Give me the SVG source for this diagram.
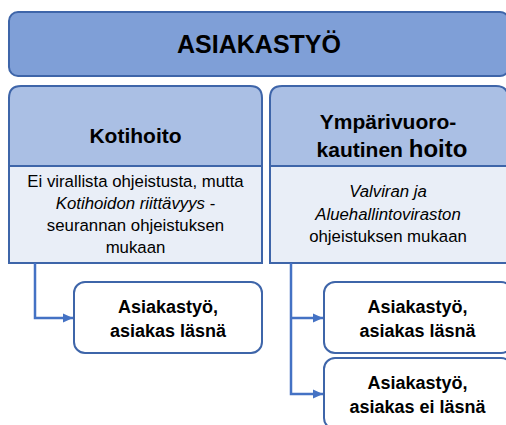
<svg xmlns="http://www.w3.org/2000/svg" width="506" height="425" viewBox="0 0 506 425">
<defs>
<style>
.t{font-family:"Liberation Sans",Arial,sans-serif;fill:#000;text-anchor:middle}
.b{font-weight:bold}
.i{font-style:italic}
.box{stroke:#3E65A9;stroke-width:2}
.conn{fill:none;stroke:#4472C4;stroke-width:2.5}
</style>
<marker id="ah" markerWidth="11" markerHeight="11" refX="10" refY="5.5" orient="auto" markerUnits="userSpaceOnUse">
<path d="M0,1 L10,5.5 L0,10 Z" fill="#4472C4"/>
</marker>
</defs>
<rect width="506" height="425" fill="#fff"/>
<g id="asiakastyo">
<rect class="box" x="9" y="12" width="500" height="64" rx="9" fill="#7F9FD7"/>
<text class="t b" x="259" y="53" font-size="25">ASIAKASTYÖ</text>
</g>
<g id="kotihoito">
<path class="box" d="M9,166 V98 Q9,86 21,86 H250 Q262,86 262,98 V166 Z" fill="#AABFE4"/>
<text class="t b" x="135.5" y="143" font-size="21">Kotihoito</text>
<rect class="box" x="9" y="166" width="253" height="97" fill="#E9EEF7"/>
<text class="t" font-size="16.8"><tspan x="135.5" y="187">Ei virallista ohjeistusta, mutta</tspan><tspan x="135.5" y="209"><tspan class="i">Kotihoidon riittävyys</tspan> -</tspan><tspan x="135.5" y="231">seurannan ohjeistuksen</tspan><tspan x="135.5" y="253">mukaan</tspan></text>
</g>
<g id="ymparivuorokautinen">
<path class="box" d="M270,166 V98 Q270,86 282,86 H496 Q508,86 508,98 V166 Z" fill="#AABFE4"/>
<text class="t b" x="388" y="129" font-size="21">Ympärivuoro-</text>
<text class="t b" x="392" y="157" font-size="21">kautinen <tspan font-size="24">hoito</tspan></text>
<rect class="box" x="270" y="166" width="238" height="97" fill="#E9EEF7"/>
<text class="t" font-size="16.8"><tspan class="i" x="388" y="197">Valviran ja</tspan><tspan class="i" x="388" y="220">Aluehallintoviraston</tspan><tspan x="388" y="242">ohjeistuksen mukaan</tspan></text>
</g>
<g id="connectors">
<path class="conn" d="M35,263 V318 H73" marker-end="url(#ah)"/>
<path class="conn" d="M291,263 V394 H323" marker-end="url(#ah)"/>
<path class="conn" d="M291,318 H323" marker-end="url(#ah)"/>
</g>
<g id="koti-lasna">
<rect class="box" x="74" y="282" width="188" height="71" rx="11" fill="#fff"/>
<text class="t b" font-size="18"><tspan x="168" y="313">Asiakastyö,</tspan><tspan x="168" y="337">asiakas läsnä</tspan></text>
</g>
<g id="ymp-lasna">
<rect class="box" x="324" y="282" width="188" height="71" rx="11" fill="#fff"/>
<text class="t b" font-size="18"><tspan x="417.5" y="313">Asiakastyö,</tspan><tspan x="417.5" y="337">asiakas läsnä</tspan></text>
</g>
<g id="ymp-ei-lasna">
<rect class="box" x="324" y="358" width="188" height="71" rx="11" fill="#fff"/>
<text class="t b" font-size="18"><tspan x="417.5" y="389">Asiakastyö,</tspan><tspan x="417.5" y="413">asiakas ei läsnä</tspan></text>
</g>
</svg>
